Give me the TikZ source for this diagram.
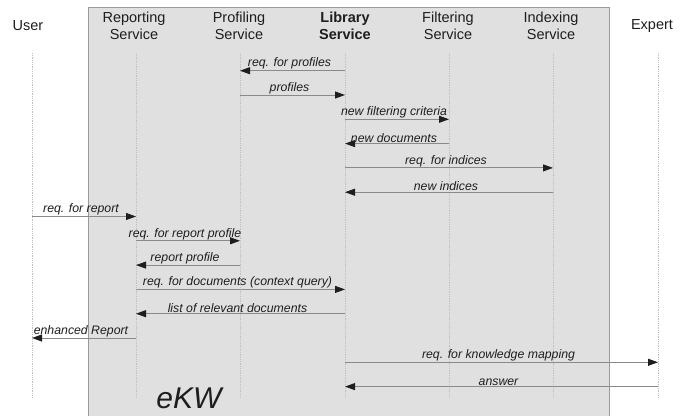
\documentclass[tikz,border=0pt]{standalone}
\usepackage{fontspec}
\setmainfont{Liberation Sans}
\usetikzlibrary{arrows.meta}
\definecolor{boxfill}{HTML}{E0E0E0}
\definecolor{boxline}{HTML}{9A9A9A}
\definecolor{msgline}{HTML}{8A8A8A}
\definecolor{tipcol}{HTML}{1E1E1E}
\definecolor{txt}{HTML}{1E1E1E}
\definecolor{lifecol}{HTML}{C0C0C0}
\tikzset{
  head/.style={align=center, inner sep=0pt, text=txt, font=\fontsize{14.5}{17}\selectfont},
  lifeline/.style={draw=lifecol, line width=0.6pt, dash pattern=on 0.8pt off 1pt},
  msg/.style={draw=msgline, line width=0.9pt, -{Triangle[length=10pt,width=7pt,color=tipcol]}},
  lbl/.style={inner sep=0pt, text=txt, font=\fontsize{12.3}{14}\selectfont\itshape, xshift=-3pt},
}
\begin{document}
\begin{tikzpicture}[x=1pt,y=-1pt]
\useasboundingbox (0,0) rectangle (688,415);
% system box
\filldraw[fill=boxfill, draw=boxline, line width=0.8pt] (88,7) rectangle (609,418);
% participants
\node[head] (huser) at (28,26) {User};
\node[head] (hrep) at (134,26) {Reporting\\Service};
\node[head] (hprof) at (239,26) {Profiling\\Service};
\node[head, font=\fontsize{14.5}{17}\selectfont\bfseries] (hlib) at (345,26) {Library\\Service};
\node[head] (hfil) at (448,26) {Filtering\\Service};
\node[head] (hidx) at (551,26) {Indexing\\Service};
\node[head] (hexp) at (652,26) {Expert};
% lifelines
\foreach \n/\x in {user/32, rep/136, prof/240, lib/345, fil/449, idx/553, exp/658}{
  \coordinate (\n-top) at (\x,53);
  \coordinate (\n-bot) at (\x,397);
  \draw[lifeline] (\n-top) -- (\n-bot);
  \foreach \i in {1,...,14}{
    \coordinate (\n-\i) at (\x,{70.7+24.3*(\i-1)});
  }
}
% messages
\draw[msg] (lib-1) -- node[lbl, above=0.8pt]{req. for profiles} (prof-1);
\draw[msg] (prof-2) -- node[lbl, above=0.8pt]{profiles} (lib-2);
\draw[msg] (lib-3) -- node[lbl, above=0.8pt]{new filtering criteria} (fil-3);
\draw[msg] (fil-4) -- node[lbl, above=0.8pt]{new documents} (lib-4);
\draw[msg] (lib-5) -- node[lbl, above=0.8pt]{req. for indices} (idx-5);
\draw[msg] (idx-6) -- node[lbl, above=0.8pt]{new indices} (lib-6);
\draw[msg] (user-7) -- node[lbl, above=0.8pt]{req. for report} (rep-7);
\draw[msg] (rep-8) -- node[lbl, above=0.8pt]{req. for report profile} (prof-8);
\draw[msg] (prof-9) -- node[lbl, above=0.8pt]{report profile} (rep-9);
\draw[msg] (rep-10) -- node[lbl, above=0.8pt]{req. for documents (context query)} (lib-10);
\draw[msg] (lib-11) -- node[lbl, above=0.8pt]{list of relevant documents} (rep-11);
\draw[msg] (rep-12) -- node[lbl, above=0.8pt]{enhanced Report} (user-12);
\draw[msg] (lib-13) -- node[lbl, above=0.8pt]{req. for knowledge mapping} (exp-13);
\draw[msg] (exp-14) -- node[lbl, above=0.8pt]{answer} (lib-14);
% system name
\node[inner sep=0pt, anchor=base, text=txt, font=\fontsize{30}{32}\selectfont\itshape] (ekw) at (189,408) {eKW};
\end{tikzpicture}
\end{document}
